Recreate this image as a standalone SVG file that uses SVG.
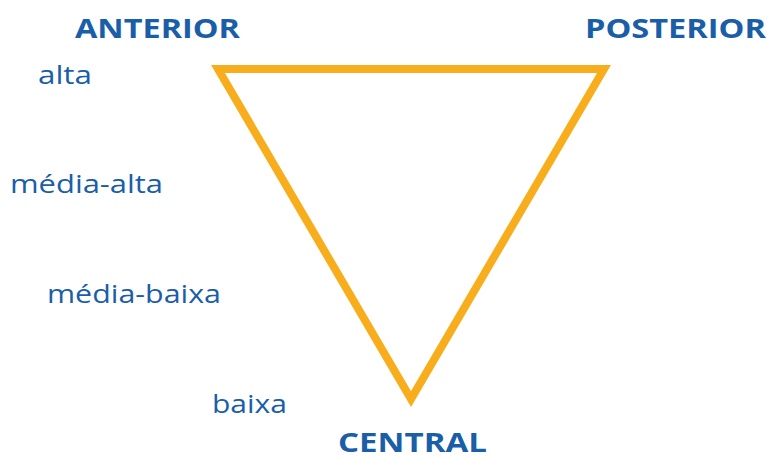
<svg xmlns="http://www.w3.org/2000/svg" width="771" height="461" viewBox="0 0 771 461">
<style>
.h{font-family:"Open Sans","Noto Sans",sans-serif;font-weight:bold;font-size:27px;fill:#1a5ea8}
.l{font-family:"Open Sans","Noto Sans",sans-serif;font-size:25px;fill:#1a5ea8}
.tri{fill:none;stroke:#f8ae1c;stroke-width:8;stroke-linejoin:miter}
</style>
<rect width="771" height="461" fill="#fff"/>
<g id="connectors">
<polygon class="tri" points="218,69 604,69 411,399"/>
</g>
<g id="anterior"><text class="h" x="75" y="38" textLength="165" lengthAdjust="spacingAndGlyphs">ANTERIOR</text></g>
<g id="posterior"><text class="h" x="585" y="38" textLength="181" lengthAdjust="spacingAndGlyphs">POSTERIOR</text></g>
<g id="central"><text class="h" x="338" y="452" textLength="149" lengthAdjust="spacingAndGlyphs">CENTRAL</text></g>
<g id="alta"><text class="l" x="38" y="84" textLength="54" lengthAdjust="spacingAndGlyphs">alta</text></g>
<g id="media-alta"><text class="l" x="10" y="193" textLength="153" lengthAdjust="spacingAndGlyphs">média-alta</text></g>
<g id="media-baixa"><text class="l" x="47" y="303" textLength="174" lengthAdjust="spacingAndGlyphs">média-baixa</text></g>
<g id="baixa"><text class="l" x="212" y="413" textLength="75" lengthAdjust="spacingAndGlyphs">baixa</text></g>
</svg>
